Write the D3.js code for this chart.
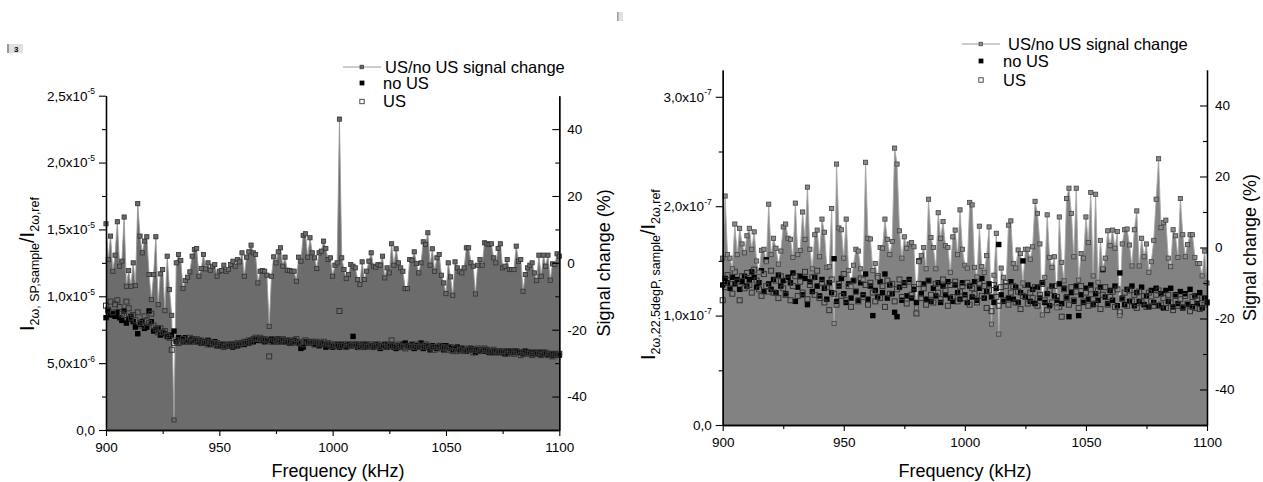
<!DOCTYPE html>
<html>
<head>
<meta charset="utf-8">
<script src="https://cdnjs.cloudflare.com/ajax/libs/d3/7.8.5/d3.min.js"></script>
<style>
body { margin: 0; background: #fff; }
svg text { font-family: "Liberation Sans", Arial, sans-serif; fill: #000; }
</style>
</head>
<body>
<svg id="chart" width="1263" height="482"></svg>
<script>
// frequency axis, kHz, one point per kHz
var freq = d3.range(900, 1101);

// ---- left panel (SP) ----
// US/no US signal change, %
var sigSP = [
 11.7, 1, 8, -2.5, 2.3, 12.3, -1, 0.5, 13.7, -7,
 -2.3, -7, 0, -6.8, 17.7, 8, 3, 6.5, 7.8, -3.5,
 -11, -3.5, 7.8, -12.5, -3.3, -2, -14.3, 2, -8, -15.7,
 -47, 0, 2.5, 0.7, -7.7, -5.3, -4.3, -2.7, 2, 4,
 4.3, -4, -1.7, 2.5, -1.8, 0, -2.2, -1, -0.5, -4,
 -2.5, -2.3, -0.7, -2.5, -2, -0.5, 0.5, -1, 1, 0.3,
 3, -4, 1.7, 3.3, 5.3, 3, 2.5, -6, -2.5, -2.3,
 -2.5, -3.7, -19, -4, 1.8, 0, 3.3, 4.5, -1, 1.7,
 -2.2, -2.3, -2.5, -2.5, -5.5, 1.7, 0.5, 8.2, 8.7, 1.7,
 7.5, 3, 1.5, -1.7, 3, 3.5, 6.5, 4.3, 1, 1.5,
 -4, -0.7, 0, 43, 1.5, -2, -4.7, -3.5, -0.5, -1,
 -1.5, -5, -6.5, 0.3, -5, -2.5, 0.5, 3, -1, -1.3,
 -0.5, -0.7, 2, -4.5, -1.5, -3, 5.7, -0.7, 4.2, 0,
 -1.5, -2.5, -7.7, -7.7, 1, 0.8, 3.3, -0.2, -3, 0,
 6.3, 5.5, 9, -0.7, 4.2, -2.5, 1.5, 2.5, -3.7, -6,
 -9.2, 0, -4.2, -9.7, 0.3, -1.5, -2.5, -3, -1.5, 4.5,
 4.5, 0, -1, -9.3, -0.7, 1, -0.7, 6, 5.7, 5.5,
 5.7, 1.5, 0, 4.3, 5.7, -1.5, -1, 1, -2, -2,
 -2, 5, 0.5, 1, -8.5, -3.5, -1.5, -0.7, 0, -3,
 -5.3, 2.3, -4, 2.3, -1, 2.3, -5.2, -0.3, -0.5, 2.7,
 2
];
// no US, x1e-6
var noUsSP = [
 8.4, 8.9, 8.6, 8.7, 8.5, 8.8, 8.4, 8.2, 8.9, 8.0,
 8.3, 8.5, 8.1, 7.7, 7.2, 7.9, 8.1, 7.6, 7.7, 8.9,
 8.1, 7.4, 7.5, 7.6, 7.1, 7.3, 7.2, 7.0, 7.0, 7.1,
 7.4, 6.6, 6.9, 6.8, 6.6, 6.9, 6.7, 6.6, 6.8, 6.7,
 6.6, 6.7, 6.5, 6.6, 6.5, 6.7, 6.4, 6.5, 6.6, 6.3,
 6.4, 6.3, 6.4, 6.3, 6.3, 6.4, 6.2, 6.4, 6.3, 6.4,
 6.5, 6.4, 6.6, 6.5, 6.7, 6.6, 6.8, 6.7, 6.7, 6.8,
 6.6, 6.7, 6.7, 6.8, 6.6, 6.7, 6.8, 6.6, 6.7, 6.6,
 6.7, 6.5, 6.6, 6.7, 6.6, 6.5, 6.1, 6.2, 6.6, 6.5,
 6.6, 6.5, 6.4, 6.5, 6.3, 6.5, 6.4, 6.2, 6.4, 6.3,
 6.2, 6.3, 6.4, 6.2, 6.4, 6.3, 6.2, 6.4, 6.3, 7.0,
 6.4, 6.2, 6.3, 6.4, 6.2, 6.4, 6.3, 6.3, 6.2, 6.4,
 6.3, 6.1, 6.3, 6.4, 6.2, 6.3, 6.4, 6.2, 6.1, 6.3,
 6.2, 6.4, 6.5, 6.3, 6.2, 6.4, 6.1, 6.3, 6.2, 6.5,
 6.1, 6.3, 6.2, 6.0, 6.3, 6.2, 6.1, 6.2, 6.3, 6.0,
 6.3, 6.2, 6.1, 6.0, 6.1, 6.2, 6.0, 6.1, 6.0, 5.9,
 6.0, 6.1, 6.0, 5.8, 6.0, 5.9, 6.0, 5.9, 6.0, 5.8,
 5.9, 5.8, 5.9, 5.8, 5.9, 5.8, 5.7, 5.9, 5.8, 5.9,
 5.8, 5.9, 5.8, 5.8, 5.7, 5.9, 5.8, 5.8, 5.7, 5.8,
 5.7, 5.8, 5.6, 5.8, 5.7, 5.6, 5.7, 5.6, 5.7, 5.6,
 5.6
];
// US, x1e-6
var usSP = [
 9.3, 9.0, 9.6, 8.8, 9.4, 9.7, 9.2, 8.7, 8.6, 9.6,
 9.1, 8.4, 8.6, 8.2, 8.8, 8.0, 7.8, 8.5, 8.2, 8.0,
 8.7, 7.8, 7.6, 7.3, 7.6, 7.3, 7.4, 7.1, 6.9, 6.0,
 6.5, 6.7, 6.5, 6.6, 6.8, 6.6, 6.7, 6.9, 6.6, 6.7,
 6.8, 6.6, 6.7, 6.5, 6.6, 6.4, 6.6, 6.5, 6.4, 6.5,
 6.3, 6.4, 6.2, 6.3, 6.4, 6.3, 6.4, 6.3, 6.5, 6.4,
 6.5, 6.6, 6.5, 6.7, 6.6, 6.8, 6.9, 6.8, 6.9, 6.7,
 6.8, 6.7, 5.5, 6.6, 6.8, 6.7, 6.6, 6.7, 6.8, 6.6,
 6.6, 6.7, 6.5, 6.6, 6.8, 6.5, 6.6, 6.4, 6.7, 6.6,
 6.5, 6.6, 6.4, 6.6, 6.4, 6.5, 6.6, 6.4, 6.5, 6.4,
 6.3, 6.4, 6.3, 8.9, 6.3, 6.4, 6.2, 6.4, 6.3, 6.4,
 6.3, 6.4, 6.2, 6.3, 6.4, 6.2, 6.3, 6.4, 6.2, 6.3,
 6.4, 6.2, 6.3, 6.2, 6.4, 6.3, 6.7, 6.3, 6.2, 6.4,
 6.3, 6.2, 6.1, 6.3, 6.2, 6.3, 6.2, 6.4, 6.2, 6.3,
 6.2, 6.4, 6.3, 6.1, 6.2, 6.0, 6.2, 6.3, 6.1, 6.2,
 6.1, 6.0, 6.2, 5.9, 6.1, 5.9, 6.0, 6.1, 5.9, 6.0,
 6.1, 6.0, 5.8, 6.0, 6.1, 5.9, 6.0, 6.1, 6.0, 5.9,
 5.8, 6.0, 5.9, 5.8, 5.9, 5.8, 5.9, 5.7, 5.9, 5.8,
 5.7, 5.9, 5.8, 5.6, 5.8, 5.9, 5.7, 5.8, 5.6, 5.8,
 5.7, 5.8, 5.6, 5.7, 5.8, 5.6, 5.7, 5.5, 5.7, 5.6,
 5.7
];

// ---- right panel (22.5degP) ----
var sigP = [
 -3, 14.5, -2, -3, -6, 6.6, -2, 5.4, 1, -1.5,
 3.3, 5.4, -0.5, 4.4, -3.8, -7, -0.8, -0.5, -4, 12.2,
 -2, 2.6, -0.2, -4.7, -1, 5.8, 6.6, 2.6, 2.3, -2.8,
 12.5, -2, -0.8, 10, 2.3, 17, -0.5, -6, 3.6, 4.9,
 -2.6, 8, 4.3, -5.6, -5.4, 11, -21.4, 23.5, 5.5, 5,
 -3, 8, -6.5, -11, -5, -0.5, -1, -6, -9, 24,
 2.6, 2.4, -6.5, -4.5, -8.5, 0, -0.2, 8, 2.3, -2,
 1.7, 28, 23.5, 4.7, -3, 3, -0.2, 1, 1.4, 0.2,
 -17, -4, -2.3, 0, -6, 13.6, 2.8, 0, -6, 9.8,
 2.6, 7.3, 0.5, 0, -7, 3, 4.9, -2, 10.6, -0.5,
 -5, -5.8, 12.7, 12, -5.6, -8.3, 6, -5.4, -7, -2.3,
 5.8, -21.6, -7.8, 4, -24.4, -5.8, -8.4, -11, 6.3, 7.5,
 -4.5, -5.8, -0.7, -1.7, -10, -0.5, -0.5, -3.3, 0.2, 13,
 9.6, 1, -19, -8.4, 9.2, -2.8, -5.6, -2.6, -17, 8.6,
 -4.2, -9.4, 13.8, 16.7, 9.6, -2.6, 16.7, -9.2, -1.7, -3,
 8.6, 1.4, 15.5, -8, 15, -9.8, 2, -6, -3, 4.7,
 0.5, 4.9, -0.2, 4.5, -19.2, 1, 5, 5.2, 0.7, -5.2,
 5, 10.3, -5.2, 2.6, -2.6, 1, -7, -4, 2, 13.6,
 25, 5.6, 7, 7.7, -3, -5.4, 5, 3.3, -2.8, 13.8,
 3.6, -2.6, 0.8, 3.6, 3.6, -2.8, -4.5, -4.5, -8, -1,
 -10
];
// no US, x1e-7
var noUsP = [
 1.28, 1.34, 1.30, 1.25, 1.35, 1.29, 1.33, 1.24, 1.31, 1.36,
 1.27, 1.33, 1.40, 1.35, 1.26, 1.30, 1.41, 1.22, 1.51, 1.29,
 1.24, 1.33, 1.21, 1.37, 1.27, 1.32, 1.20, 1.35, 1.30, 1.39,
 1.13, 1.26, 1.36, 1.19, 1.34, 1.10, 1.31, 1.22, 1.35, 1.27,
 1.18, 1.33, 1.25, 1.15, 1.30, 1.21, 1.52, 1.13, 1.27, 1.34,
 1.20, 1.12, 1.29, 1.16, 1.32, 1.22, 1.14, 1.30, 1.19, 1.38,
 1.15, 1.27, 1.00, 1.23, 1.17, 1.31, 1.21, 1.38, 1.16, 1.28,
 1.20, 1.03, 0.99, 1.26, 1.14, 1.30, 1.18, 1.33, 1.16, 1.24,
 1.12, 1.50, 1.20, 1.29, 1.15, 1.32, 1.13, 1.25, 1.18, 1.30,
 1.12, 1.27, 1.19, 1.31, 1.16, 1.13, 1.28, 1.21, 1.15, 1.30,
 1.19, 1.12, 1.27, 1.17, 1.31, 1.14, 1.25, 1.34, 1.16, 1.22,
 1.29, 1.17, 1.12, 1.25, 1.65, 1.19, 1.13, 1.27, 1.16, 1.31,
 1.15, 1.26, 1.12, 1.21, 1.50, 1.17, 1.28, 1.13, 1.24, 1.11,
 1.26, 1.16, 1.30, 1.12, 1.20, 1.09, 1.27, 1.18, 1.14, 1.29,
 1.11, 1.25, 1.17, 0.99, 1.21, 1.13, 1.27, 1.00, 1.19, 1.12,
 1.25, 1.15, 1.28, 1.10, 1.20, 1.14, 1.26, 1.42, 1.17, 1.11,
 1.23, 1.14, 1.27, 1.09, 1.39, 1.16, 1.10, 1.24, 1.13, 1.27,
 1.09, 1.21, 1.13, 1.26, 1.10, 1.18, 1.08, 1.23, 1.12, 1.25,
 1.09, 1.20, 1.07, 1.23, 1.13, 1.25, 1.08, 1.19, 1.11, 1.22,
 1.07, 1.20, 1.10, 1.24, 1.08, 1.18, 1.11, 1.21, 1.07, 1.16,
 1.12
];
// US, x1e-7
var usP = [
 1.14, 1.26, 1.37, 1.29, 1.20, 1.40, 1.31, 1.14, 1.36, 1.25,
 1.39, 1.28, 1.21, 1.42, 1.32, 1.24, 1.18, 1.38, 1.27, 1.22,
 1.41, 1.21, 1.32, 1.16, 1.36, 1.25, 1.19, 1.33, 1.14, 1.27,
 1.36, 1.18, 1.31, 1.21, 1.40, 1.15, 1.28, 1.35, 1.19, 1.41,
 1.16, 1.30, 1.12, 1.26, 1.05, 1.33, 1.20, 1.10, 1.29, 1.18,
 1.38, 1.14, 1.27, 1.08, 1.32, 1.22, 1.13, 1.34, 1.17, 1.28,
 1.10, 1.30, 1.21, 1.13, 1.36, 1.16, 1.27, 1.08, 1.32, 1.20,
 1.29, 1.13, 1.24, 1.33, 1.17, 1.28, 1.11, 1.31, 1.19, 1.26,
 1.02, 1.29, 1.16, 1.25, 1.10, 1.32, 1.19, 1.12, 1.29, 1.21,
 1.15, 1.33, 1.23, 1.09, 1.28, 1.17, 1.31, 1.13, 1.22, 1.27,
 1.16, 1.30, 1.10, 1.25, 1.20, 1.12, 1.29, 1.18, 1.27, 1.07,
 1.23, 1.04, 1.28, 1.17, 1.09, 1.26, 1.14, 1.30, 1.10, 1.21,
 1.27, 1.12, 1.22, 1.06, 1.18, 1.28, 1.11, 1.21, 1.16, 1.26,
 1.09, 1.19, 1.29, 1.14, 1.05, 1.23, 1.12, 1.27, 1.17, 1.08,
 0.99, 1.24, 1.16, 1.10, 1.26, 1.14, 1.22, 1.07, 1.27, 1.13,
 1.21, 1.09, 1.24, 1.15, 1.11, 1.23, 1.06, 1.19, 1.26, 1.10,
 1.17, 1.22, 1.08, 1.24, 1.03, 1.15, 1.21, 1.09, 1.23, 1.13,
 1.19, 1.07, 1.22, 1.12, 1.18, 1.08, 1.21, 1.13, 1.09, 1.19,
 1.23, 1.10, 1.16, 1.07, 1.19, 1.12, 1.05, 1.18, 1.09, 1.15,
 1.08, 1.18, 1.11, 1.04, 1.17, 1.07, 1.14, 1.06, 1.16, 1.10,
 1.12
];

var freqTicks = [900, 950, 1000, 1050, 1100];
var freqMinor = [925, 975, 1025, 1075];
var sigTicks = [-40, -20, 0, 20, 40];
var sigMinor = [-30, -10, 10, 30];
var legendNames = ['US/no US signal change', 'no US', 'US'];

var svg = d3.select('#chart');

var panels = [
  { x0: 106, x1: 559.3, top: 95.7, bot: 430, lMax: 25, unit: 1e-6,
    lTicks: [0, 5, 10, 15, 20, 25], lMinor: [2.5, 7.5, 12.5, 17.5, 22.5],
    sig: sigSP, noUs: noUsSP, us: usSP,
    fill: '#6c6c6c', line: '#9a9a9a', mark: '#6a6a6a', markStroke: '#333',
    legX: 343, legY: 67, legTextX: 385, legRowX: 383, legRows: [83, 101.5],
    titleX: 34, titleY: 331,
    titleSub1: '2\u03c9, SP,sample', titleSub2: '2\u03c9,ref',
    rTitleX: 610, xTitleX: 338 },
  { x0: 722.7, x1: 1207, top: 70, bot: 425, lMax: 3.245, unit: 1e-7,
    lTicks: [0, 1, 2, 3], lMinor: [0.5, 1.5, 2.5],
    sig: sigP, noUs: noUsP, us: usP,
    fill: '#828282', line: '#a8a8a8', mark: '#8a8a8a', markStroke: '#444',
    legX: 962, legY: 44, legTextX: 1008, legRowX: 1003, legRows: [61, 80],
    titleX: 655, titleY: 360,
    titleSub1: '2\u03c9,22.5degP, sample', titleSub2: '2\u03c9,ref',
    rTitleX: 1256, xTitleX: 965 }
];

function sciLabel(v, unit) {
  if (v === 0) return ['0,0', null];
  var val = v * unit;
  var e = Math.floor(Math.log10(val) + 1e-9);
  var m = val / Math.pow(10, e);
  return [m.toFixed(1).replace('.', ',') + 'x10', String(e)];
}

panels.forEach(function(p) {
  var x = d3.scaleLinear().domain([900, 1100]).range([p.x0, p.x1]);
  var yL = d3.scaleLinear().domain([0, p.lMax]).range([p.bot, p.top]);
  var yR = d3.scaleLinear().domain([-50, 50]).range([p.bot, p.top]);
  var g = svg.append('g');

  // filled signal change
  var area = d3.area()
    .x(function(d, i) { return x(freq[i]); })
    .y0(p.bot)
    .y1(function(d) { return yR(d); });
  g.append('path').datum(p.sig).attr('d', area).attr('fill', p.fill);

  var line = d3.line()
    .x(function(d, i) { return x(freq[i]); })
    .y(function(d) { return yR(d); });
  g.append('path').datum(p.sig).attr('d', line)
    .attr('fill', 'none').attr('stroke', p.line).attr('stroke-width', 0.9);

  // no US
  g.append('g').selectAll('rect').data(p.noUs).enter().append('rect')
    .attr('x', function(d, i) { return x(freq[i]) - 2.7; })
    .attr('y', function(d) { return yL(d) - 2.7; })
    .attr('width', 5.4).attr('height', 5.4)
    .attr('fill', '#000');

  // US
  g.append('g').selectAll('rect').data(p.us).enter().append('rect')
    .attr('x', function(d, i) { return x(freq[i]) - 2.5; })
    .attr('y', function(d) { return yL(d) - 2.5; })
    .attr('width', 5).attr('height', 5)
    .attr('fill', 'none').attr('stroke', '#333').attr('stroke-width', 1);

  // signal markers
  g.append('g').selectAll('rect').data(p.sig).enter().append('rect')
    .attr('x', function(d, i) { return x(freq[i]) - 2.1; })
    .attr('y', function(d) { return yR(d) - 2.1; })
    .attr('width', 4.2).attr('height', 4.2)
    .attr('fill', p.mark).attr('stroke', p.markStroke).attr('stroke-width', 0.8);

  // axes
  var ax = g.append('g').attr('class', 'axes');
  function styleAxis(sel) {
    sel.select('.domain').attr('stroke', '#000').attr('stroke-width', 1.3);
    sel.selectAll('.tick line').attr('stroke', '#000').attr('stroke-width', 1.1);
    sel.selectAll('.tick text').attr('font-size', 13.5).attr('fill', '#000')
      .attr('font-family', '"Liberation Sans", Arial, sans-serif');
  }
  ax.append('g').attr('transform', 'translate(0,' + p.bot + ')')
    .call(d3.axisBottom(x).tickValues(freqTicks).tickSize(6).tickSizeOuter(0).tickPadding(6)
      .tickFormat(d3.format('d')))
    .call(styleAxis);
  ax.append('g').attr('transform', 'translate(0,' + p.bot + ')')
    .call(d3.axisBottom(x).tickValues(freqMinor).tickSize(4).tickSizeOuter(0).tickFormat(''))
    .call(styleAxis);

  ax.append('g').attr('transform', 'translate(' + p.x0 + ',0)')
    .call(d3.axisLeft(yL).tickValues(p.lTicks).tickSize(7).tickSizeOuter(0).tickFormat(''))
    .call(styleAxis);
  ax.append('g').attr('transform', 'translate(' + p.x0 + ',0)')
    .call(d3.axisLeft(yL).tickValues(p.lMinor).tickSize(4).tickSizeOuter(0).tickFormat(''))
    .call(styleAxis);
  p.lTicks.forEach(function(v) {
    var lab = sciLabel(v, p.unit);
    var t = ax.append('text').attr('x', p.x0 - 11).attr('y', yL(v)).attr('dy', '0.36em')
      .attr('text-anchor', 'end').attr('font-size', 13.5);
    t.append('tspan').text(lab[0]);
    if (lab[1]) t.append('tspan').attr('font-size', 8.5).attr('dy', '-0.75em').text(lab[1]);
  });

  var rightAx = ax.append('g').attr('transform', 'translate(' + p.x1 + ',0)')
    .call(d3.axisRight(yR).tickValues(sigTicks).tickSize(-7).tickSizeOuter(0).tickPadding(8)
      .tickFormat(function(d) { return d < 0 ? '-' + Math.abs(d) : String(d); }))
    .call(styleAxis);
  ax.append('g').attr('transform', 'translate(' + p.x1 + ',0)')
    .call(d3.axisRight(yR).tickValues(sigMinor).tickSize(-4).tickSizeOuter(0).tickFormat(''))
    .call(styleAxis);

  // axis titles
  var cy = (p.top + p.bot) / 2;
  ax.append('text').attr('x', p.xTitleX).attr('y', 477).attr('text-anchor', 'middle')
    .attr('font-size', 18).text('Frequency (kHz)');
  ax.append('text').attr('transform', 'translate(' + p.rTitleX + ',' + cy + ') rotate(-90)')
    .attr('text-anchor', 'middle').attr('font-size', 18).text('Signal change (%)');
  var lt = ax.append('text')
    .attr('transform', 'translate(' + p.titleX + ',' + p.titleY + ') rotate(-90)')
    .attr('font-size', 20);
  lt.append('tspan').text('I');
  lt.append('tspan').attr('font-size', 12.5).attr('dy', 5).text(p.titleSub1);
  lt.append('tspan').attr('dy', -5).text('/I');
  lt.append('tspan').attr('font-size', 12.5).attr('dy', 5).text(p.titleSub2);

  // legend
  var lg = g.append('g');
  lg.append('line').attr('x1', p.legX).attr('x2', p.legX + 38)
    .attr('y1', p.legY).attr('y2', p.legY).attr('stroke', '#999').attr('stroke-width', 1);
  lg.append('rect').attr('x', p.legX + 17).attr('y', p.legY - 1.8).attr('width', 3.6).attr('height', 3.6)
    .attr('fill', p.mark).attr('stroke', p.markStroke).attr('stroke-width', 0.7);
  lg.append('text').attr('x', p.legTextX).attr('y', p.legY).attr('dy', '0.35em')
    .attr('font-size', 16.5).text(legendNames[0]);
  lg.append('rect').attr('x', p.legX + 16.6).attr('y', p.legRows[0] - 2.4).attr('width', 4.8).attr('height', 4.8)
    .attr('fill', '#000');
  lg.append('text').attr('x', p.legRowX).attr('y', p.legRows[0]).attr('dy', '0.35em')
    .attr('font-size', 16.5).text(legendNames[1]);
  lg.append('rect').attr('x', p.legX + 16.8).attr('y', p.legRows[1] - 2.2).attr('width', 4.4).attr('height', 4.4)
    .attr('fill', 'none').attr('stroke', '#3a3a3a').attr('stroke-width', 0.9);
  lg.append('text').attr('x', p.legRowX).attr('y', p.legRows[1]).attr('dy', '0.35em')
    .attr('font-size', 16.5).text(legendNames[2]);
});

// small page markers left over from the source document
svg.append('rect').attr('x', 7).attr('y', 44).attr('width', 16).attr('height', 9).attr('fill', '#e0e0e0');
svg.append('rect').attr('x', 7).attr('y', 44).attr('width', 2).attr('height', 9).attr('fill', '#9a9a9a');
svg.append('text').attr('x', 14).attr('y', 51.5).attr('font-size', 8).attr('font-weight', 'bold').text('3');
svg.append('rect').attr('x', 617).attr('y', 12).attr('width', 6).attr('height', 9).attr('fill', '#e0e0e0');
svg.append('rect').attr('x', 617).attr('y', 12).attr('width', 1.5).attr('height', 9).attr('fill', '#9a9a9a');
</script>
</body>
</html>
